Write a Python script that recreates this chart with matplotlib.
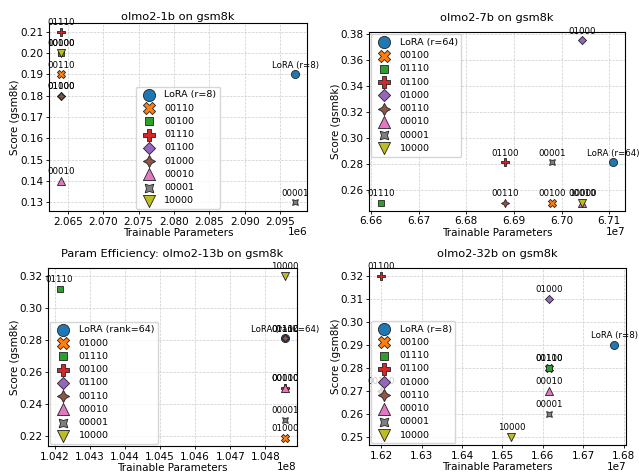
import matplotlib
matplotlib.use("Agg")
import matplotlib.pyplot as plt
import matplotlib.transforms as mtransforms
from matplotlib.ticker import MultipleLocator

# ---------------- data ----------------
p1_title = "olmo2-1b on gsm8k"
p1_labels = ["LoRA (r=8)", "00110", "00100", "01110", "01100", "01000", "00010", "00001", "10000"]
p1_params = [2.097152e6, 2.0640e6, 2.0640e6, 2.0640e6, 2.0640e6, 2.0640e6, 2.0640e6, 2.0971e6, 2.0640e6]
p1_scores = [0.19, 0.19, 0.20, 0.21, 0.18, 0.18, 0.14, 0.13, 0.20]

p2_title = "olmo2-7b on gsm8k"
p2_labels = ["LoRA (r=64)", "00100", "01110", "01100", "01000", "00110", "00010", "00001", "10000"]
p2_params = [6.7108864e7, 6.6980e7, 6.6621e7, 6.6882e7, 6.7044e7, 6.6882e7, 6.7044e7, 6.6980e7, 6.7044e7]
p2_scores = [0.281, 0.25, 0.25, 0.281, 0.375, 0.25, 0.25, 0.281, 0.25]

p3_title = "Param Efficiency: olmo2-13b on gsm8k"
p3_labels = ["LoRA (rank=64)", "01000", "01110", "00100", "01100", "00110", "00010", "00001", "10000"]
p3_params = [1.048576e8, 1.04857e8, 1.04213e8, 1.04857e8, 1.04857e8, 1.04857e8, 1.04857e8, 1.04857e8, 1.04857e8]
p3_scores = [0.281, 0.219, 0.312, 0.25, 0.281, 0.281, 0.25, 0.23, 0.32]

p4_title = "olmo2-32b on gsm8k"
p4_labels = ["LoRA (r=8)", "00100", "01110", "01100", "01000", "00110", "00010", "00001", "10000"]
p4_params = [1.6777216e7, 1.6616e7, 1.6616e7, 1.6199e7, 1.6616e7, 1.6199e7, 1.6616e7, 1.6616e7, 1.6522e7]
p4_scores = [0.29, 0.28, 0.28, 0.32, 0.31, 0.27, 0.27, 0.26, 0.25]

# ---------------- style ----------------
colors = ["#1f77b4", "#ff7f0e", "#2ca02c", "#d62728", "#9467bd",
          "#8c564b", "#e377c2", "#7f7f7f", "#bcbd22"]
markers = ["o", "X", (4, 0, 45), "P", (4, 0, 0), (4, 1, 0), "^", (4, 1, 45), "v"]

# (title, labels, x, y, axes rect, legend loc, title pad, x tick step, y tick step)
panels = [
    (p1_title, p1_labels, p1_params, p1_scores, [0.0767, 0.5530, 0.4038, 0.3977], "lower center", 2.0, 0.005e6, 0.01),
    (p2_title, p2_labels, p2_params, p2_scores, [0.5779, 0.5536, 0.4002, 0.3780], "upper left", 8.0, 0.01e7, 0.02),
    (p3_title, p3_labels, p3_params, p3_scores, [0.0756, 0.0551, 0.3887, 0.3777], "lower left", 8.0, 0.001e8, 0.02),
    (p4_title, p4_labels, p4_params, p4_scores, [0.5779, 0.0566, 0.4018, 0.3762], "lower left", 8.0, 0.01e7, 0.01),
]

fig = plt.figure(figsize=(6.39, 4.72), dpi=100)

for title, labels, xs, ys, rect, loc, tpad, xstep, ystep in panels:
    ax = fig.add_axes(rect)
    ax.set_axisbelow(True)
    for i, (lab, x, y) in enumerate(zip(labels, xs, ys)):
        ax.scatter([x], [y], s=34, marker=markers[i], color=colors[i],
                   edgecolors="#222222", linewidths=0.6, label=lab, zorder=3)
        ax.annotate(lab, (x, y), xytext=(0, 3.5), textcoords="offset points",
                    ha="center", va="bottom", fontsize=6.2, zorder=4)
    ax.xaxis.set_major_locator(MultipleLocator(xstep))
    ax.yaxis.set_major_locator(MultipleLocator(ystep))
    ax.set_title(title, fontsize=8.2, pad=tpad)
    ax.set_xlabel("Trainable Parameters", fontsize=7.5, labelpad=1)
    ax.set_ylabel("Score (gsm8k)", fontsize=7.5, labelpad=0)
    ax.tick_params(labelsize=7.5, length=2.5, width=0.6, pad=1.5)
    off = ax.xaxis.get_offset_text()
    off.set_fontsize(7.5)
    off.set_transform(mtransforms.blended_transform_factory(ax.transAxes, mtransforms.IdentityTransform())
                      + mtransforms.ScaledTranslation(0, 2.5 / 72, fig.dpi_scale_trans))
    ax.grid(True, linestyle="--", linewidth=0.5, color="#cccccc")
    for sp in ax.spines.values():
        sp.set_linewidth(0.8)
    ax.legend(loc=loc, fontsize=6.8, markerscale=1.5, handletextpad=0.6,
              labelspacing=0.45, borderpad=0.4, borderaxespad=0.2,
              frameon=True, fancybox=True)

fig.savefig("out.png", dpi=100)
